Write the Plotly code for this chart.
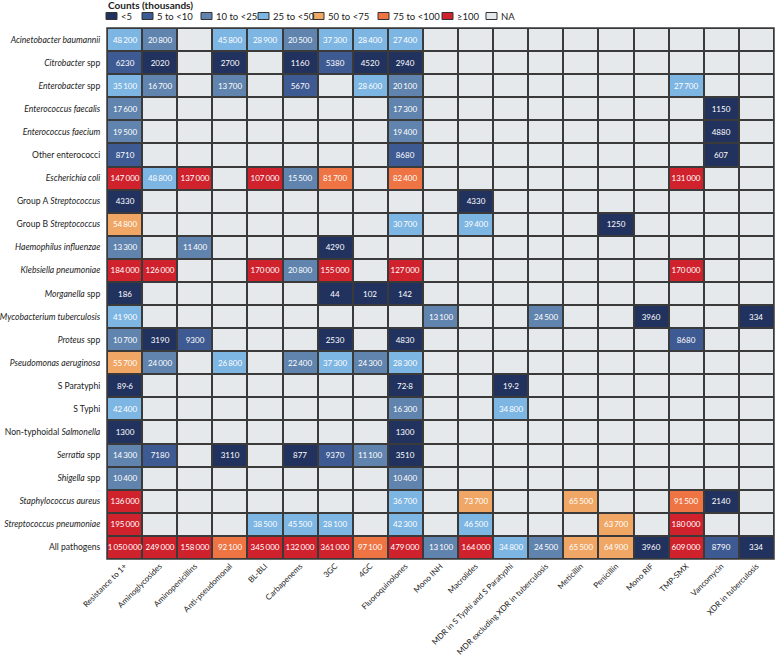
import plotly.graph_objects as go

N = None

antibiotics = [
    "Resistance to 1+", "Aminoglycosides", "Aminopenicillins", "Anti-pseudomonal", "BL-BLI",
    "Carbapenems", "3GC", "4GC", "Fluoroquinolones", "Mono INH", "Macrolides",
    "MDR in S Typhi and S Paratyphi", "MDR excluding XDR in tuberculosis", "Meticillin",
    "Penicillin", "Mono RIF", "TMP-SMX", "Vancomycin", "XDR in tuberculosis",
]

pathogens = [
    "<i>Acinetobacter baumannii</i>", "<i>Citrobacter</i> spp", "<i>Enterobacter</i> spp",
    "<i>Enterococcus faecalis</i>", "<i>Enterococcus faecium</i>", "Other enterococci",
    "<i>Escherichia coli</i>", "Group A <i>Streptococcus</i>", "Group B <i>Streptococcus</i>",
    "<i>Haemophilus influenzae</i>", "<i>Klebsiella pneumoniae</i>", "<i>Morganella</i> spp",
    "<i>Mycobacterium tuberculosis</i>", "<i>Proteus</i> spp", "<i>Pseudomonas aeruginosa</i>",
    "S Paratyphi", "S Typhi", "Non-typhoidal <i>Salmonella</i>", "<i>Serratia</i> spp",
    "<i>Shigella</i> spp", "<i>Staphylococcus aureus</i>", "<i>Streptococcus pneumoniae</i>",
    "All pathogens",
]

# counts per pathogen, one value per antibiotic column (None = NA)
acinetobacter = [48200, 20800, N, 45800, 28900, 20500, 37300, 28400, 27400, N, N, N, N, N, N, N, N, N, N]
citrobacter = [6230, 2020, N, 2700, N, 1160, 5380, 4520, 2940, N, N, N, N, N, N, N, N, N, N]
enterobacter = [35100, 16700, N, 13700, N, 5670, N, 28600, 20100, N, N, N, N, N, N, N, 27700, N, N]
e_faecalis = [17600, N, N, N, N, N, N, N, 17300, N, N, N, N, N, N, N, N, 1150, N]
e_faecium = [19500, N, N, N, N, N, N, N, 19400, N, N, N, N, N, N, N, N, 4880, N]
other_enterococci = [8710, N, N, N, N, N, N, N, 8680, N, N, N, N, N, N, N, N, 607, N]
e_coli = [147000, 48800, 137000, N, 107000, 15500, 81700, N, 82400, N, N, N, N, N, N, N, 131000, N, N]
group_a_strep = [4330, N, N, N, N, N, N, N, N, N, 4330, N, N, N, N, N, N, N, N]
group_b_strep = [54800, N, N, N, N, N, N, N, 30700, N, 39400, N, N, N, 1250, N, N, N, N]
h_influenzae = [13300, N, 11400, N, N, N, 4290, N, N, N, N, N, N, N, N, N, N, N, N]
k_pneumoniae = [184000, 126000, N, N, 170000, 20800, 155000, N, 127000, N, N, N, N, N, N, N, 170000, N, N]
morganella = [186, N, N, N, N, N, 44, 102, 142, N, N, N, N, N, N, N, N, N, N]
m_tuberculosis = [41900, N, N, N, N, N, N, N, N, 13100, N, N, 24500, N, N, 3960, N, N, 334]
proteus = [10700, 3190, 9300, N, N, N, 2530, N, 4830, N, N, N, N, N, N, N, 8680, N, N]
p_aeruginosa = [55700, 24000, N, 26800, N, 22400, 37300, 24300, 28300, N, N, N, N, N, N, N, N, N, N]
s_paratyphi = [89.6, N, N, N, N, N, N, N, 72.8, N, N, 19.2, N, N, N, N, N, N, N]
s_typhi = [42400, N, N, N, N, N, N, N, 16300, N, N, 34800, N, N, N, N, N, N, N]
nts = [1300, N, N, N, N, N, N, N, 1300, N, N, N, N, N, N, N, N, N, N]
serratia = [14300, 7180, N, 3110, N, 877, 9370, 11100, 3510, N, N, N, N, N, N, N, N, N, N]
shigella = [10400, N, N, N, N, N, N, N, 10400, N, N, N, N, N, N, N, N, N, N]
s_aureus = [136000, N, N, N, N, N, N, N, 36700, N, 73700, N, N, 65500, N, N, 91500, 2140, N]
s_pneumoniae = [195000, N, N, N, 38500, 45500, 28100, N, 42300, N, 46500, N, N, N, 63700, N, 180000, N, N]
all_pathogens = [1050000, 249000, 158000, 92100, 345000, 132000, 361000, 97100, 479000, 13100,
                 164000, 34800, 24500, 65500, 64900, 3960, 609000, 8790, 334]

counts = [acinetobacter, citrobacter, enterobacter, e_faecalis, e_faecium, other_enterococci, e_coli,
          group_a_strep, group_b_strep, h_influenzae, k_pneumoniae, morganella, m_tuberculosis, proteus,
          p_aeruginosa, s_paratyphi, s_typhi, nts, serratia, shigella, s_aureus, s_pneumoniae, all_pathogens]

bin_edges = [5000, 10000, 25000, 50000, 75000, 100000]
bin_labels = ["<5", "5 to <10", "10 to <25", "25 to <50", "50 to <75", "75 to <100", "\u2265100", "NA"]
bin_colors = ["#22325f", "#3e5a92", "#6184ae", "#7db5e3", "#f0a765", "#ee7443", "#d0222d", "#e6e9ec"]

FONT = "Lato, sans-serif"


def fmt(v):
    if v is None:
        return ""
    if v != int(v):
        return f"{v:.1f}".replace(".", "\u00b7")
    s = f"{int(v):,}"
    return s.replace(",", "\u2009") if v >= 10000 else s.replace(",", "")


def category(v):
    if v is None:
        return len(bin_labels) - 1
    return sum(v >= e for e in bin_edges)


z = [[category(v) for v in row] for row in counts]
text = [[fmt(v) for v in row] for row in counts]

n = len(bin_colors)
colorscale = []
for i, c in enumerate(bin_colors):
    colorscale += [[i / n, c], [(i + 1) / n, c]]

fig = go.Figure(go.Heatmap(
    z=z, x=antibiotics, y=pathogens, text=text, texttemplate="%{text}",
    textfont={"family": FONT, "size": 8, "color": "white"},
    colorscale=colorscale, zmin=-0.5, zmax=n - 0.5, showscale=False,
    xgap=2, ygap=2, hoverinfo="skip",
))

# plot area in pixels, used for the hand-drawn legend
L, R, T, B, W, H = 107, 1, 28, 97, 775, 656
pw, ph = W - L - R, H - T - B


def px(x):
    return (x - L) / pw


def py(y):
    return (H - B - y) / ph


legend_x = [106, 142, 201, 258, 313, 378, 442, 486]
shapes = []
annotations = [dict(text="<b>Counts (thousands)</b>", x=px(106), y=py(5), xref="paper", yref="paper",
                    xanchor="left", yanchor="middle", showarrow=False,
                    font={"family": FONT, "size": 10, "color": "#222"})]
for lx, lab, col in zip(legend_x, bin_labels, bin_colors):
    shapes.append(dict(type="rect", xref="paper", yref="paper", x0=px(lx), x1=px(lx + 11),
                       y0=py(19.5), y1=py(12.5), fillcolor=col, line={"color": "#333", "width": 1}))
    annotations.append(dict(text=lab, x=px(lx + 13), y=py(16.5), xref="paper", yref="paper",
                            xanchor="left", yanchor="middle", showarrow=False,
                            font={"family": FONT, "size": 9.5, "color": "#222"}))

shapes.append(dict(type="rect", xref="paper", yref="paper", x0=0, x1=1, y0=0, y1=1,
                   line={"color": "#3a3a3a", "width": 1.5}))

fig.update_layout(
    width=W, height=H, margin={"l": L, "r": R, "t": T, "b": B, "autoexpand": False},
    plot_bgcolor="#3a3a3a", paper_bgcolor="white",
    font={"family": FONT, "size": 9, "color": "#222"},
    shapes=shapes, annotations=annotations,
    xaxis={"tickangle": -45, "ticks": "", "showgrid": False, "zeroline": False,
           "automargin": False, "tickfont": {"size": 8}},
    yaxis={"autorange": "reversed", "ticks": "outside", "ticklen": 4, "tickcolor": "rgba(0,0,0,0)",
           "showgrid": False, "zeroline": False, "automargin": False, "tickfont": {"size": 8.6}},
)

fig.write_html("out.html", config={"displayModeBar": False},
               post_script="document.body.style.margin='0px';")
